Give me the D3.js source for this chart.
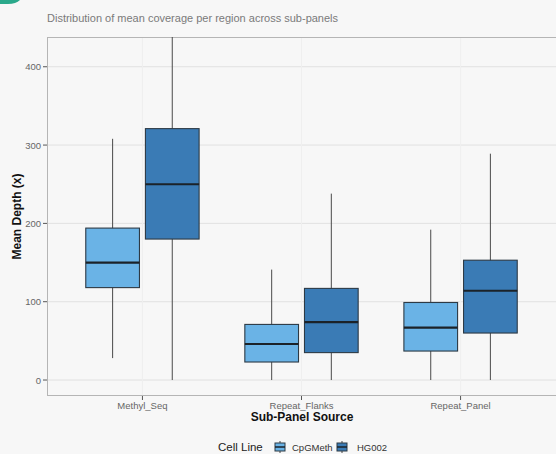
<!DOCTYPE html>
<html>
<head>
<meta charset="utf-8">
<script src="https://cdn.jsdelivr.net/npm/d3@7"></script>
<style>
  html, body { margin: 0; padding: 0; background: #f7f7f7; }
  svg { display: block; font-family: "Liberation Sans", Arial, sans-serif; }
</style>
</head>
<body>
<svg id="chart" width="556" height="454"></svg>
<script>
// Sub-panel sources along the x axis and the cell lines dodged within each
const panels = ["Methyl_Seq", "Repeat_Flanks", "Repeat_Panel"];
const cellLines = ["CpGMeth", "HG002"];
const lineColors = ["#6ab3e6", "#3a7bb5"];

// Box-plot summaries per cell line, in panel order: whisker low, Q1, median, Q3, whisker high
const cpgLow    = [28, 0, 0];
const cpgQ1     = [118, 23, 37];
const cpgMedian = [150, 46, 67];
const cpgQ3     = [194, 71, 99];
const cpgHigh   = [308, 141, 192];

const hgLow    = [0, 0, 0];
const hgQ1     = [180, 35, 60];
const hgMedian = [250, 74, 114];
const hgQ3     = [321, 117, 153];
const hgHigh   = [470, 238, 289];

const yTicks = [0, 100, 200, 300, 400];
const yDomain = [-20.4, 438];

const stats = [];
panels.forEach((p, i) => {
  stats.push({ panel: p, line: "CpGMeth", lo: cpgLow[i], q1: cpgQ1[i], med: cpgMedian[i], q3: cpgQ3[i], hi: cpgHigh[i] });
  stats.push({ panel: p, line: "HG002", lo: hgLow[i], q1: hgQ1[i], med: hgMedian[i], q3: hgQ3[i], hi: hgHigh[i] });
});

const svg = d3.select("#chart");
const plot = { left: 47, top: 37, right: 556, bottom: 396 };

// corner badge
svg.append("path")
  .attr("d", "M0,0 L20,0 Q16,4 8,4 L0,4 Z")
  .attr("fill", "#2ba98b");

// Scales: discrete axis with 0.6-step expansion on each side
const step = (plot.right - plot.left) / (panels.length - 1 + 1.2);
const xc = d3.scalePoint().domain(panels)
  .range([plot.left + 0.6 * step, plot.right - 0.6 * step]);
const dodge = d3.scaleBand().domain(cellLines)
  .range([-0.375 * step, 0.375 * step]).paddingInner(0).paddingOuter(0);
const boxW = dodge.bandwidth() * 0.9;
const color = d3.scaleOrdinal().domain(cellLines).range(lineColors);

const y = d3.scaleLinear().domain(yDomain).range([plot.bottom, plot.top]);

// Title
svg.append("text")
  .attr("x", 47).attr("y", 22)
  .attr("font-size", 11).attr("fill", "#7a7a7a")
  .text("Distribution of mean coverage per region across sub-panels");

// Clip region for the panel
svg.append("clipPath").attr("id", "panelClip")
  .append("rect")
  .attr("x", plot.left).attr("y", plot.top)
  .attr("width", plot.right - plot.left).attr("height", plot.bottom - plot.top);

const g = svg.append("g");

// Horizontal grid
g.selectAll("line.hgrid").data(yTicks).join("line")
  .attr("class", "hgrid")
  .attr("x1", plot.left).attr("x2", plot.right)
  .attr("y1", d => y(d)).attr("y2", d => y(d))
  .attr("stroke", "#e1e1e1").attr("stroke-width", 1);

// Faint vertical grid at categories
g.selectAll("line.vgrid").data(panels).join("line")
  .attr("class", "vgrid")
  .attr("x1", d => xc(d)).attr("x2", d => xc(d))
  .attr("y1", plot.top).attr("y2", plot.bottom)
  .attr("stroke", "#efefef").attr("stroke-width", 1);

// Panel border lines (top, left, bottom)
g.append("line").attr("x1", plot.left).attr("x2", plot.right)
  .attr("y1", plot.top + 0.5).attr("y2", plot.top + 0.5)
  .attr("stroke", "#b5b5b5").attr("stroke-width", 1.2);
g.append("line").attr("x1", plot.left + 0.5).attr("x2", plot.left + 0.5)
  .attr("y1", plot.top).attr("y2", plot.bottom)
  .attr("stroke", "#b5b5b5").attr("stroke-width", 1);
g.append("line").attr("x1", plot.left).attr("x2", plot.right)
  .attr("y1", plot.bottom - 0.5).attr("y2", plot.bottom - 0.5)
  .attr("stroke", "#b5b5b5").attr("stroke-width", 1.2);

// Boxes
const boxes = svg.append("g").attr("clip-path", "url(#panelClip)");
const bx = d => xc(d.panel) + dodge(d.line) + dodge.bandwidth() / 2;

boxes.selectAll("line.whisk").data(stats).join("line")
  .attr("x1", bx).attr("x2", bx)
  .attr("y1", d => y(d.lo)).attr("y2", d => y(d.hi))
  .attr("stroke", "#4a4a4a").attr("stroke-width", 1);

boxes.selectAll("rect.box").data(stats).join("rect")
  .attr("x", d => bx(d) - boxW / 2)
  .attr("width", boxW)
  .attr("y", d => y(d.q3))
  .attr("height", d => y(d.q1) - y(d.q3))
  .attr("fill", d => color(d.line))
  .attr("stroke", "#2d3a45").attr("stroke-width", 1.1);

boxes.selectAll("line.med").data(stats).join("line")
  .attr("x1", d => bx(d) - boxW / 2).attr("x2", d => bx(d) + boxW / 2)
  .attr("y1", d => y(d.med)).attr("y2", d => y(d.med))
  .attr("stroke", "#1b2228").attr("stroke-width", 2.2);

// Y axis ticks + labels
const yAxis = svg.append("g");
yAxis.selectAll("line").data(yTicks).join("line")
  .attr("x1", plot.left - 4).attr("x2", plot.left)
  .attr("y1", d => y(d)).attr("y2", d => y(d))
  .attr("stroke", "#555").attr("stroke-width", 1);
yAxis.selectAll("text").data(yTicks).join("text")
  .attr("x", plot.left - 6).attr("y", d => y(d) + 3.5)
  .attr("text-anchor", "end").attr("font-size", 9.5).attr("fill", "#666")
  .text(d => d);

// X axis ticks + labels
const xAxis = svg.append("g");
xAxis.selectAll("line").data(panels).join("line")
  .attr("x1", d => xc(d)).attr("x2", d => xc(d))
  .attr("y1", plot.bottom).attr("y2", plot.bottom + 4)
  .attr("stroke", "#555").attr("stroke-width", 1);
xAxis.selectAll("text").data(panels).join("text")
  .attr("x", d => xc(d)).attr("y", plot.bottom + 13)
  .attr("text-anchor", "middle").attr("font-size", 9.5).attr("fill", "#666")
  .text(d => d);

// Axis titles
svg.append("text")
  .attr("x", 302).attr("y", 421)
  .attr("text-anchor", "middle").attr("font-size", 12).attr("font-weight", "bold")
  .attr("fill", "#111")
  .text("Sub-Panel Source");

svg.append("text")
  .attr("transform", `translate(21,${(plot.top + plot.bottom) / 2}) rotate(-90)`)
  .attr("text-anchor", "middle").attr("font-size", 12).attr("font-weight", "bold")
  .attr("fill", "#111")
  .text("Mean Depth (x)");

// Legend
const leg = svg.append("g").attr("transform", "translate(218,447)");
leg.append("text").attr("x", 0).attr("y", 4)
  .attr("font-size", 11.5).attr("fill", "#222").text("Cell Line");
const keyPos = [56, 118];
const labelPos = [74, 139];
cellLines.forEach((c, i) => {
  const k = leg.append("g").attr("transform", `translate(${keyPos[i]},0)`);
  k.append("line").attr("x1", 6).attr("x2", 6).attr("y1", -6).attr("y2", 6)
    .attr("stroke", "#444").attr("stroke-width", 1);
  k.append("rect").attr("x", 1).attr("y", -4).attr("width", 10).attr("height", 8)
    .attr("fill", color(c)).attr("stroke", "#2d3a45").attr("stroke-width", 1);
  k.append("line").attr("x1", 1).attr("x2", 11).attr("y1", 0).attr("y2", 0)
    .attr("stroke", "#1b2228").attr("stroke-width", 1.5);
  leg.append("text").attr("x", labelPos[i]).attr("y", 3.5)
    .attr("font-size", 9.5).attr("fill", "#333").text(c);
});
</script>
</body>
</html>
